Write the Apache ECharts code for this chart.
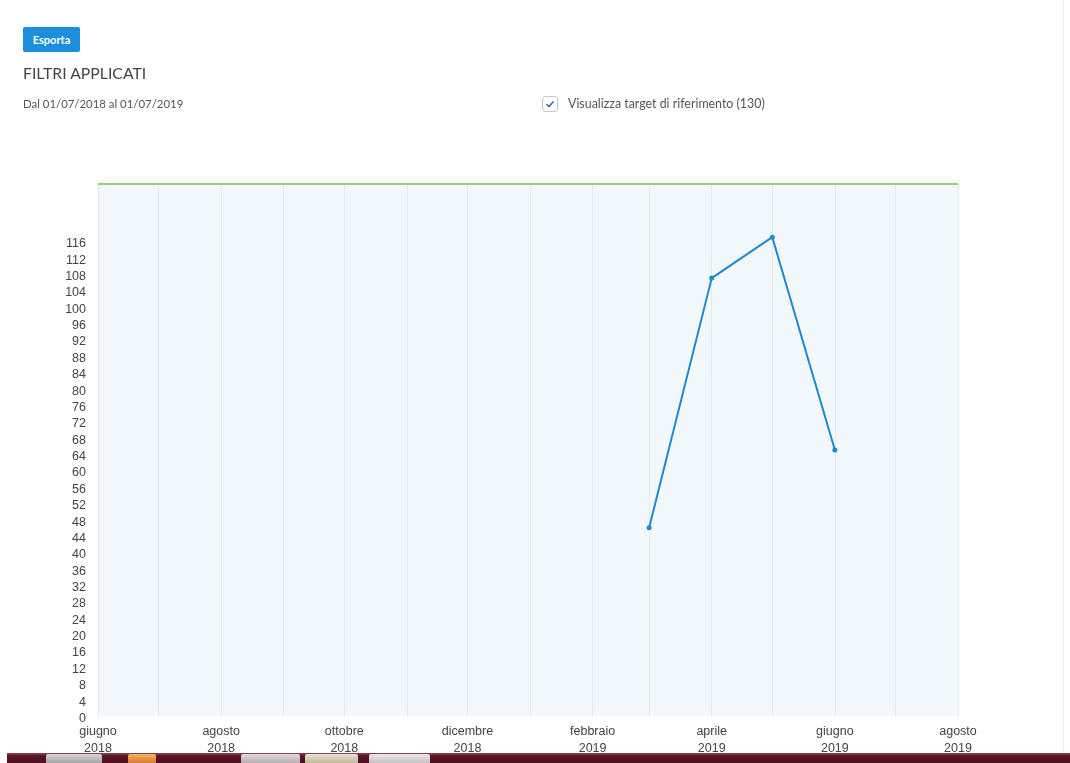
<!DOCTYPE html>
<html>
<head>
<meta charset="utf-8">
<script src="https://cdn.jsdelivr.net/npm/echarts@6/dist/echarts.min.js"></script>
<style>
  html, body { margin: 0; padding: 0; background: #fff; width: 1070px; height: 763px; overflow: hidden; }
  #chart { position: absolute; left: 0; top: 0; width: 1070px; height: 763px; }
  .hdr { position: absolute; font-family: Lato, "Open Sans", sans-serif; z-index: 2; white-space: nowrap; }
  #btn { left: 23px; top: 27px; width: 57px; height: 25px; background: #1b8fdd; border-radius: 2px; color: #fff; font-size: 11px; font-weight: bold; line-height: 25px; text-align: center; }
  #title { left: 23px; top: 63px; font-size: 15.8px; color: #444; }
  #range { left: 23px; top: 97px; font-size: 11.4px; color: #555; }
  #chk { left: 542px; top: 96px; width: 14px; height: 14px; border: 1px solid #c4c8cc; border-radius: 3px; background: #fff; }
  #chk svg { position: absolute; left: 2px; top: 2px; }
  #chklbl { left: 568px; top: 96px; font-size: 12.4px; color: #555; }
  #edge { position: absolute; left: 1063px; top: 0; width: 1px; height: 753px; background: #f0f0f0; z-index: 2; }
  #taskbar { position: absolute; left: 7px; top: 753px; width: 1063px; height: 10px; background: linear-gradient(#8a4a58, #5a1424 30%, #4e1020); z-index: 3; }
  .tb { position: absolute; top: 754px; height: 9px; border-radius: 2px 2px 0 0; z-index: 4; }
</style>
</head>
<body>
<div id="chart"></div>
<div class="hdr" id="btn">Esporta</div>
<div class="hdr" id="title">FILTRI APPLICATI</div>
<div class="hdr" id="range">Dal 01/07/2018 al 01/07/2019</div>
<div class="hdr" id="chk"><svg width="10" height="10" viewBox="0 0 10 10"><path d="M1.5 5.2 L4 7.5 L8.5 2.5" fill="none" stroke="#3d6fa8" stroke-width="1.6"/></svg></div>
<div class="hdr" id="chklbl">Visualizza target di riferimento (130)</div>
<div id="edge"></div>
<div id="taskbar"></div>
<div class="tb" style="left:46px;width:56px;background:linear-gradient(#d8d4d6,#a9a3a7);"></div>
<div class="tb" style="left:128px;width:28px;background:linear-gradient(#f2b46a,#d77a2a);"></div>
<div class="tb" style="left:241px;width:59px;background:linear-gradient(#e4dcdf,#b9acb1);"></div>
<div class="tb" style="left:305px;width:53px;background:linear-gradient(#e8e2d2,#c2b89c);"></div>
<div class="tb" style="left:369px;width:61px;background:linear-gradient(#ece8ea,#c8c0c4);"></div>
<script>
// ---- data ----
const dates = ['2019-03-01', '2019-04-01', '2019-05-01', '2019-06-01'];
const values = [46, 107, 117, 65];
const target = 130;
const xMin = '2018-06-01';
const xMax = '2019-08-01';
const monthNames = ['gennaio', 'febbraio', 'marzo', 'aprile', 'maggio', 'giugno',
                    'luglio', 'agosto', 'settembre', 'ottobre', 'novembre', 'dicembre'];
const yMax = 130;
const yStep = 4;
const yLabelMax = 116;

const chart = echarts.init(document.getElementById('chart'), null, { renderer: 'canvas' });
const DAY = 24 * 3600 * 1000;
chart.setOption({
  animation: false,
  grid: {
    left: 98, right: 112, top: 184, bottom: 47,
    show: true, backgroundColor: '#f3f8fd', borderWidth: 0
  },
  xAxis: {
    type: 'time',
    min: xMin, max: xMax,
    minInterval: 27 * DAY, maxInterval: 32 * DAY,
    axisLine: { show: false },
    axisTick: { show: false },
    splitLine: { show: true, lineStyle: { color: '#e2e9f0', width: 1 } },
    axisLabel: {
      interval: 0,
      hideOverlap: false,
      showMinLabel: true, showMaxLabel: true,
      margin: 7,
      color: '#444',
      fontFamily: '"Liberation Sans", Arial, sans-serif',
      fontSize: 12.5,
      lineHeight: 17,
      formatter: function (v) {
        const d = new Date(v);
        if (d.getMonth() % 2 !== 1) return '';
        return monthNames[d.getMonth()] + '\n' + d.getFullYear();
      }
    }
  },
  yAxis: {
    type: 'value',
    min: 0, max: yMax, interval: yStep,
    axisLine: { show: false },
    axisTick: { show: false },
    splitLine: { show: false },
    axisLabel: {
      margin: 12,
      formatter: function (v) { return v <= yLabelMax ? '{a|' + v + '}' : ''; },
      rich: {
        a: {
          color: '#444',
          fontFamily: '"Liberation Sans", Arial, sans-serif',
          fontSize: 12.5,
          padding: [5, 0, 0, 0]
        }
      }
    }
  },
  series: [{
    type: 'line',
    data: dates.map((d, i) => [d, values[i]]),
    symbol: 'circle',
    symbolSize: 5,
    lineStyle: { color: '#1a8bd0', width: 2 },
    itemStyle: { color: '#1a8bd0' },
    markLine: {
      silent: true,
      symbol: 'none',
      label: { show: false },
      lineStyle: { color: '#8fd46c', width: 2, type: 'solid' },
      data: [{ yAxis: target }]
    }
  }]
});
</script>
</body>
</html>
